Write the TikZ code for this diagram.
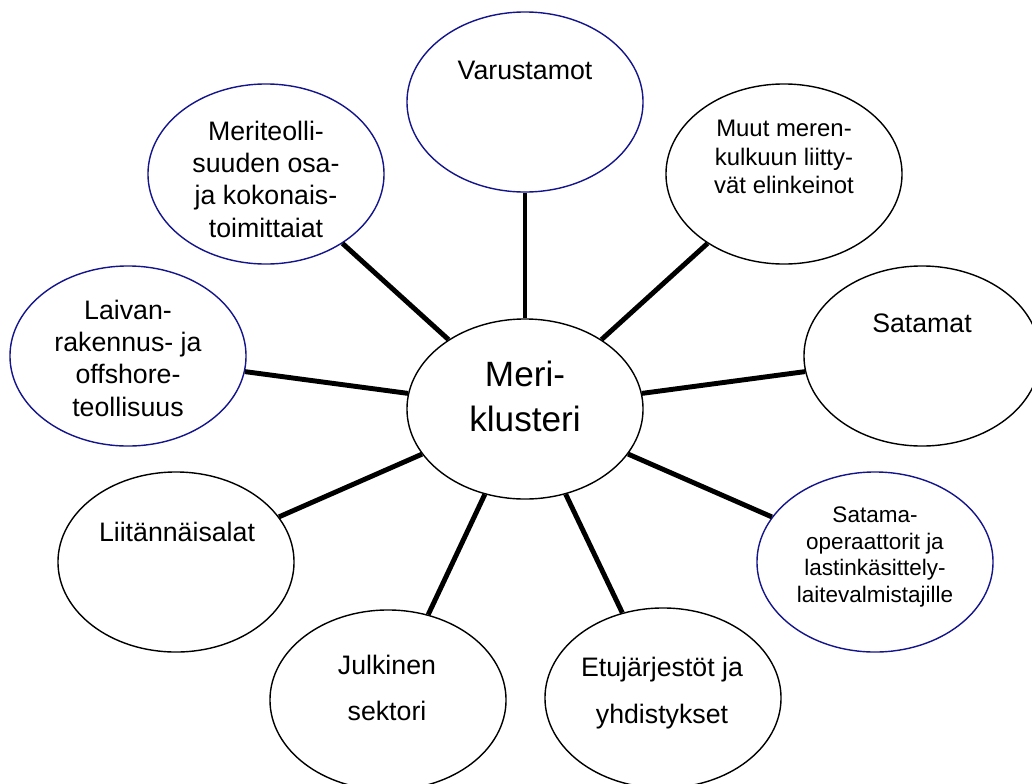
\documentclass[tikz,border=0pt]{standalone}
\usepackage{fontspec}
\setmainfont{Liberation Sans}
\usetikzlibrary{shapes.geometric}
\definecolor{rimblue}{RGB}{20,20,140}

\begin{document}
\begin{tikzpicture}[x=0.025cm,y=-0.025cm,
        bubble/.style={draw,ellipse,line width=1pt,minimum width=5.9cm,minimum height=4.5cm,inner sep=0pt},
        bluebubble/.style={bubble,draw=rimblue},
        link/.style={line width=3.5pt},
        txt/.style={align=center,font=\fontsize{19}{23}\selectfont}]
        \useasboundingbox (0,0) rectangle (1032,783);
        \node[bubble] (klusteri) at (525,409) {};
        \node[bluebubble] (varustamot) at (525,102) {};
        \node[bluebubble] (meriteollisuus) at (266,174) {};
        \node[bubble] (muut) at (784,174) {};
        \node[bubble] (satamat) at (922,356) {};
        \node[bluebubble] (laivanrakennus) at (128,356) {};
        \node[bubble] (liitannaisalat) at (176,562) {};
        \node[bluebubble] (satamaoperaattorit) at (875,562) {};
        \node[bubble] (julkinen) at (388,700) {};
        \node[bubble] (etujarjestot) at (663,698) {};
        \node[txt,font=\fontsize{25}{32}\selectfont] (klusteri-t) at (525,396) {Meri-\\klusteri};
        \node[txt] (varustamot-t) at (525,70) {Varustamot};
        \node[txt] (meriteollisuus-t) at (266,179) {Meriteolli-\\suuden osa-\\ja kokonais-\\toimittaiat};
        \node[txt,font=\fontsize{17}{20}\selectfont] (muut-t) at (784,157) {Muut meren-\\kulkuun liitty-\\vät elinkeinot};
        \node[txt] (satamat-t) at (922,323) {Satamat};
        \node[txt] (laivanrakennus-t) at (128,358) {Laivan-\\rakennus- ja\\offshore-\\teollisuus};
        \node[txt] (liitannaisalat-t) at (177,532) {Liitännäisalat};
        \node[txt,font=\fontsize{16}{19}\selectfont] (satamaoperaattorit-t) at (875,557) {Satama-\\operaattorit ja\\lastinkäsittely-\\laitevalmistajille};
        \node[txt,font=\fontsize{19}{32.5}\selectfont] (julkinen-t) at (387,688) {Julkinen\\sektori};
        \node[txt,font=\fontsize{19}{33}\selectfont] (etujarjestot-t) at (662,693) {Etujärjestöt ja\\yhdistykset};
        \foreach \b in {varustamot,meriteollisuus,muut,satamat,laivanrakennus,liitannaisalat,satamaoperaattorit,julkinen,etujarjestot}
            \draw[link] (klusteri) -- (\b);
\end{tikzpicture}
\end{document}
